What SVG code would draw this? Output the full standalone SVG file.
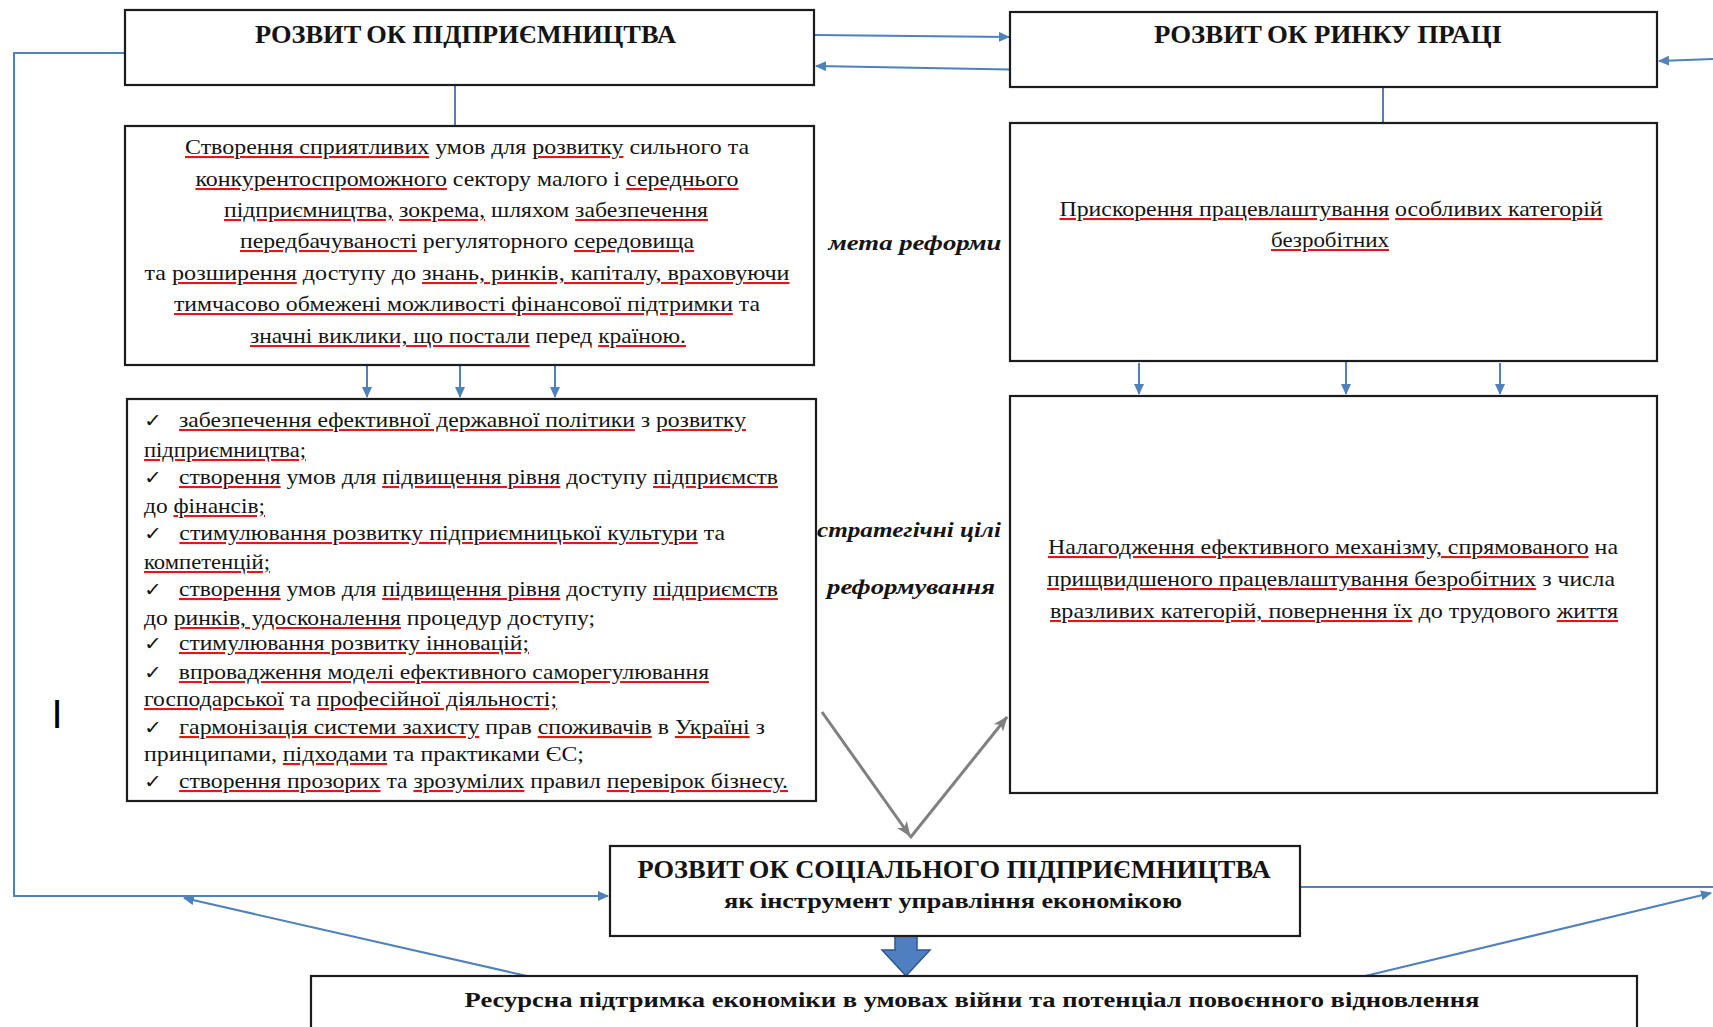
<svg xmlns="http://www.w3.org/2000/svg" width="1713" height="1027" viewBox="0 0 1713 1027">
<style>
.box{fill:#fff;stroke:#1c1c1c;stroke-width:2.2}
.t{font-family:"Liberation Serif","Times New Roman",serif;fill:#141414;font-size:21px}
.b{font-weight:bold}
.h{font-size:25px;font-weight:bold}
.i{font-style:italic;font-weight:bold;font-size:22px}
.m{text-anchor:middle}
.ck{font-family:"DejaVu Sans",sans-serif;font-size:19px}
.c{stroke:#4f81bd;stroke-width:2;fill:none}
.g{stroke:#808080;stroke-width:3;fill:none}
.sp{fill:#e01818;text-decoration:underline;text-decoration-thickness:2px;text-underline-offset:3px}
.sp>tspan{fill:#141414}
</style>
<defs>
<marker id="ab" markerUnits="userSpaceOnUse" markerWidth="11" markerHeight="10" refX="10" refY="5" orient="auto"><path d="M0,0 L11,5 L0,10 z" fill="#4f81bd"/></marker>
<marker id="ag" markerUnits="userSpaceOnUse" markerWidth="15" markerHeight="12" refX="14" refY="6" orient="auto"><path d="M0,0 L15,6 L0,12 L4,6 z" fill="#808080"/></marker>
</defs>
<rect width="1713" height="1027" fill="#fff"/>
<g id="connectors">
<polyline class="c" points="125,53 14,53 14,896 608,896" marker-end="url(#ab)"/>
<line class="c" x1="814" y1="35" x2="1009" y2="37" marker-end="url(#ab)"/>
<line class="c" x1="1010" y1="69.5" x2="816" y2="66" marker-end="url(#ab)"/>
<line class="c" x1="1713" y1="59" x2="1659" y2="61" marker-end="url(#ab)"/>
<line class="c" x1="455" y1="85" x2="455" y2="126"/>
<line class="c" x1="1383" y1="87" x2="1383" y2="123"/>
<line class="c" x1="367" y1="366" x2="367" y2="397" marker-end="url(#ab)"/>
<line class="c" x1="460" y1="366" x2="460" y2="397" marker-end="url(#ab)"/>
<line class="c" x1="555" y1="366" x2="555" y2="397" marker-end="url(#ab)"/>
<line class="c" x1="1139" y1="363" x2="1139" y2="394" marker-end="url(#ab)"/>
<line class="c" x1="1346" y1="361" x2="1346" y2="394" marker-end="url(#ab)"/>
<line class="c" x1="1500" y1="363" x2="1500" y2="394" marker-end="url(#ab)"/>
<line class="c" x1="1300" y1="887" x2="1713" y2="887"/>
<line class="c" x1="1361" y1="977" x2="1711" y2="893" marker-end="url(#ab)"/>
<line class="c" x1="527" y1="976" x2="184" y2="898" marker-end="url(#ab)"/>
<line class="g" x1="822" y1="712" x2="910" y2="836" marker-end="url(#ag)"/>
<line class="g" x1="910" y1="838" x2="1007" y2="717" marker-end="url(#ag)"/>
<polygon points="895,936 917,936 917,950 930,950 906,976 882,950 895,950" fill="#4f7fbf" stroke="#2f5597" stroke-width="1.5"/>
</g>
<g id="n-pidpr">
<rect class="box" x="125" y="10" width="689" height="75"/>
<text class="t h m" x="465.5" y="43" textLength="421" lengthAdjust="spacingAndGlyphs">РОЗВИТ<tspan dx="5">ОК ПІДПРИЄМНИЦТВА</tspan></text>
</g>
<g id="n-rynok">
<rect class="box" x="1010" y="12" width="647" height="75"/>
<text class="t h m" x="1328" y="43" textLength="348" lengthAdjust="spacingAndGlyphs">РОЗВИТ<tspan dx="5">ОК РИНКУ ПРАЦІ</tspan></text>
</g>
<g id="n-meta1">
<rect class="box" x="125" y="126" width="689" height="239"/>
<text class="t m" x="467" y="154" textLength="564" lengthAdjust="spacingAndGlyphs"><tspan class="sp"><tspan>Створення сприятливих</tspan></tspan> умов для <tspan class="sp"><tspan>розвитку</tspan></tspan> сильного та</text>
<text class="t m" x="467" y="186" textLength="543" lengthAdjust="spacingAndGlyphs"><tspan class="sp"><tspan>конкурентоспроможного</tspan></tspan>  сектору малого і <tspan class="sp"><tspan>середнього</tspan></tspan></text>
<text class="t m" x="466" y="217" textLength="484" lengthAdjust="spacingAndGlyphs"><tspan class="sp"><tspan>підприємництва,</tspan></tspan>  <tspan class="sp"><tspan>зокрема,</tspan></tspan> шляхом <tspan class="sp"><tspan>забезпечення</tspan></tspan></text>
<text class="t m" x="467" y="248" textLength="454" lengthAdjust="spacingAndGlyphs"><tspan class="sp"><tspan>передбачуваності</tspan></tspan>  регуляторного <tspan class="sp"><tspan>середовища</tspan></tspan></text>
<text class="t m" x="467" y="280" textLength="645" lengthAdjust="spacingAndGlyphs">та <tspan class="sp"><tspan>розширення</tspan></tspan> доступу до <tspan class="sp"><tspan>знань, ринків, капіталу, враховуючи</tspan></tspan></text>
<text class="t m" x="467" y="311" textLength="586" lengthAdjust="spacingAndGlyphs"><tspan class="sp"><tspan>тимчасово обмежені можливості фінансової підтримки</tspan></tspan> та</text>
<text class="t m" x="468" y="343" textLength="436" lengthAdjust="spacingAndGlyphs"><tspan class="sp"><tspan>значні виклики, що постали</tspan></tspan> перед <tspan class="sp"><tspan>країною.</tspan></tspan></text>
</g>
<g id="n-meta2">
<rect class="box" x="1010" y="123" width="647" height="238"/>
<text class="t m" x="1331" y="216" textLength="543" lengthAdjust="spacingAndGlyphs"><tspan class="sp"><tspan>Прискорення працевлаштування</tspan></tspan>  <tspan class="sp"><tspan>особливих категорій</tspan></tspan></text>
<text class="t m" x="1330" y="247" textLength="118" lengthAdjust="spacingAndGlyphs"><tspan class="sp"><tspan>безробітних</tspan></tspan></text>
</g>
<g id="n-list">
<rect class="box" x="127" y="399" width="689" height="402"/>
<text class="t" x="144" y="427" textLength="602" lengthAdjust="spacingAndGlyphs"><tspan class="ck">✓</tspan> <tspan class="sp" dx="10"><tspan>забезпечення  ефективної державної політики</tspan></tspan> з <tspan class="sp"><tspan>розвитку</tspan></tspan></text>
<text class="t" x="144" y="457" textLength="162" lengthAdjust="spacingAndGlyphs"><tspan class="sp"><tspan>підприємництва;</tspan></tspan></text>
<text class="t" x="144" y="484" textLength="634" lengthAdjust="spacingAndGlyphs"><tspan class="ck">✓</tspan> <tspan class="sp" dx="10"><tspan>створення</tspan></tspan>  умов для <tspan class="sp"><tspan>підвищення  рівня</tspan></tspan> доступу <tspan class="sp"><tspan>підприємств</tspan></tspan></text>
<text class="t" x="144" y="513" textLength="121" lengthAdjust="spacingAndGlyphs">до <tspan class="sp"><tspan>фінансів;</tspan></tspan></text>
<text class="t" x="144" y="540" textLength="581" lengthAdjust="spacingAndGlyphs"><tspan class="ck">✓</tspan> <tspan class="sp" dx="10"><tspan>стимулювання  розвитку  підприємницької  культури</tspan></tspan> та</text>
<text class="t" x="144" y="569" textLength="126" lengthAdjust="spacingAndGlyphs"><tspan class="sp"><tspan>компетенцій;</tspan></tspan></text>
<text class="t" x="144" y="596" textLength="634" lengthAdjust="spacingAndGlyphs"><tspan class="ck">✓</tspan> <tspan class="sp" dx="10"><tspan>створення</tspan></tspan>  умов для <tspan class="sp"><tspan>підвищення  рівня</tspan></tspan> доступу <tspan class="sp"><tspan>підприємств</tspan></tspan></text>
<text class="t" x="144" y="625" textLength="451" lengthAdjust="spacingAndGlyphs">до <tspan class="sp"><tspan>ринків, удосконалення</tspan></tspan>  процедур  доступу;</text>
<text class="t" x="144" y="650" textLength="385" lengthAdjust="spacingAndGlyphs"><tspan class="ck">✓</tspan> <tspan class="sp" dx="10"><tspan>стимулювання  розвитку інновацій;</tspan></tspan></text>
<text class="t" x="144" y="679" textLength="565" lengthAdjust="spacingAndGlyphs"><tspan class="ck">✓</tspan> <tspan class="sp" dx="10"><tspan>впровадження моделі  ефективного саморегулювання</tspan></tspan></text>
<text class="t" x="144" y="706" textLength="413" lengthAdjust="spacingAndGlyphs"><tspan class="sp"><tspan>господарської</tspan></tspan> та <tspan class="sp"><tspan>професійної діяльності;</tspan></tspan></text>
<text class="t" x="144" y="734" textLength="621" lengthAdjust="spacingAndGlyphs"><tspan class="ck">✓</tspan> <tspan class="sp" dx="10"><tspan>гармонізація  системи  захисту</tspan></tspan> прав <tspan class="sp"><tspan>споживачів</tspan></tspan> в <tspan class="sp"><tspan>Україні</tspan></tspan> з</text>
<text class="t" x="144" y="761" textLength="440" lengthAdjust="spacingAndGlyphs">принципами,  <tspan class="sp"><tspan>підходами</tspan></tspan> та практиками  ЄС;</text>
<text class="t" x="144" y="788" textLength="644" lengthAdjust="spacingAndGlyphs"><tspan class="ck">✓</tspan> <tspan class="sp" dx="10"><tspan>створення  прозорих</tspan></tspan> та <tspan class="sp"><tspan>зрозумілих</tspan></tspan> правил <tspan class="sp"><tspan>перевірок бізнесу.</tspan></tspan></text>
</g>
<g id="n-cili2">
<rect class="box" x="1010" y="396" width="647" height="397"/>
<text class="t m" x="1333" y="554" textLength="570" lengthAdjust="spacingAndGlyphs"><tspan class="sp"><tspan>Налагодження ефективного механізму, спрямованого</tspan></tspan> на</text>
<text class="t m" x="1331" y="586" textLength="568" lengthAdjust="spacingAndGlyphs"><tspan class="sp"><tspan>прищвидшеного працевлаштування безробітних</tspan></tspan> з числа</text>
<text class="t m" x="1334" y="618" textLength="568" lengthAdjust="spacingAndGlyphs"><tspan class="sp"><tspan>вразливих категорій, повернення їх</tspan></tspan> до трудового <tspan class="sp"><tspan>життя</tspan></tspan></text>
</g>
<g id="labels">
<text class="t i m" x="915" y="250" textLength="173" lengthAdjust="spacingAndGlyphs">мета реформи</text>
<text class="t i m" x="909" y="537" textLength="184" lengthAdjust="spacingAndGlyphs">стратегічні цілі</text>
<text class="t i m" x="911" y="594" textLength="168" lengthAdjust="spacingAndGlyphs">реформування</text>
<text x="57" y="728" style="font-family:'Liberation Sans',Arial,sans-serif;font-size:40px" fill="#000" text-anchor="middle">I</text>
</g>
<g id="n-social">
<rect class="box" x="610" y="846" width="690" height="90"/>
<text class="t h m" x="954" y="878" textLength="633" lengthAdjust="spacingAndGlyphs">РОЗВИТ<tspan dx="5">ОК СОЦІАЛЬНОГО ПІДПРИЄМНИЦТВА</tspan></text>
<text class="t b m" x="953" y="908" textLength="458" lengthAdjust="spacingAndGlyphs" style="font-size:21px">як інструмент управління економікою</text>
</g>
<g id="n-resurs">
<rect class="box" x="311" y="976" width="1326" height="80"/>
<text class="t b m" x="972" y="1007" textLength="1015" lengthAdjust="spacingAndGlyphs" style="font-size:21px">Ресурсна підтримка економіки в умовах війни та потенціал повоєнного відновлення</text>
</g>
</svg>
